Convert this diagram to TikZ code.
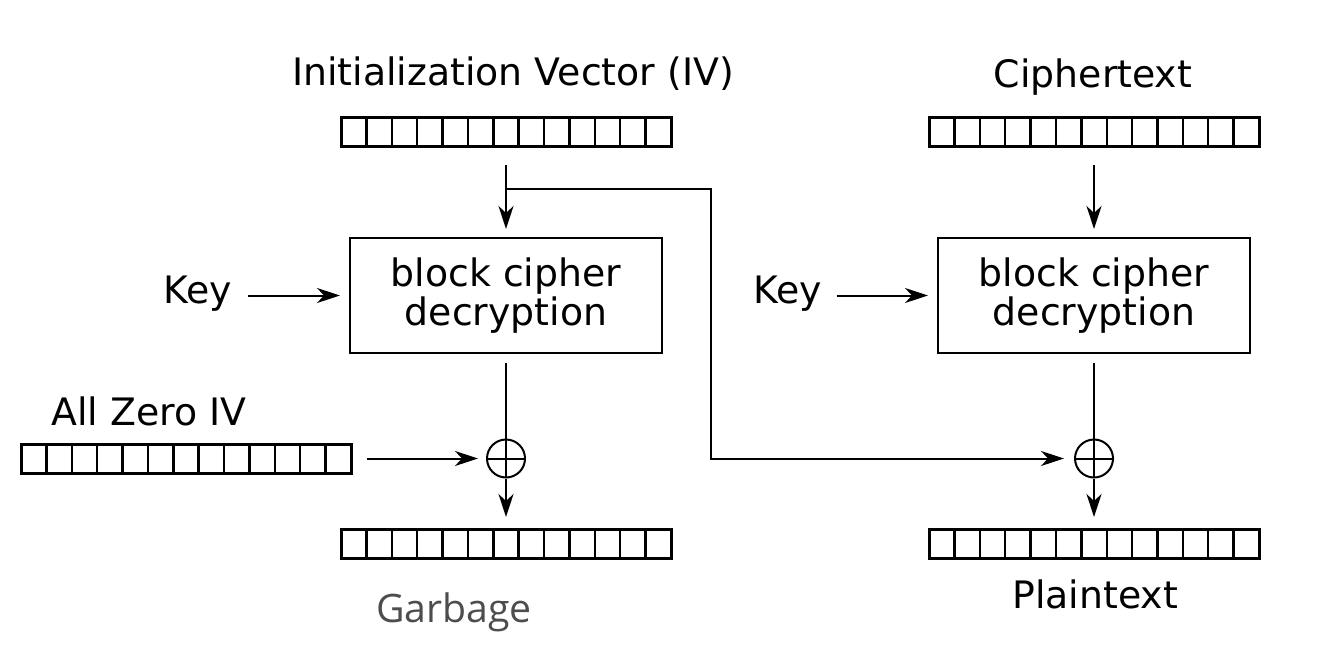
\documentclass[tikz,border=0pt]{standalone}
\usepackage{fontspec}
\setmainfont{DejaVu Sans}
\newfontfamily\garbfont{Open Sans}
\usetikzlibrary{arrows.meta,calc,positioning}
\definecolor{garbgray}{HTML}{4D4D4D}

\begin{document}
\begin{tikzpicture}[
        x=0.5pt, y=-0.5pt,
        font=\fontsize{18.9}{19.5}\selectfont,
        reg/.style={
          draw,
          line width=1.5pt,
          outer sep=0pt,
          inner sep=0pt,
          minimum width=165pt,
          minimum height=14.5pt
        },
        dec/.style={
          draw,
          line width=1pt,
          minimum width=156pt,
          minimum height=57.5pt,
          align=center
        },
        xor/.style={
          draw,
          circle,
          line width=1pt,
          inner sep=0pt,
          minimum size=19pt,
          path picture={\draw[line width=1pt]
            (path picture bounding box.north) -- (path picture bounding box.south)
            (path picture bounding box.west) -- (path picture bounding box.east);}
        },
        lbl/.style={inner sep=0pt, anchor=base},
        flow/.style={-{Stealth[length=11.5pt,width=7.5pt,inset=3.5pt]}, line width=1pt}]

        \useasboundingbox (0,0) rectangle (1325,668);

        % Helper macro: register of 13 cells.
        \def\reg#1#2{\node[reg] (#1) at (#2) {};
          \foreach \i in {1,...,12}
            \draw[line width=1.2pt] ([xshift=\i*12.692pt] #1.north west)
              -- ([xshift=\i*12.692pt] #1.south west)}

        % Draw the registers.
        \reg{iv}{506,132.5};
        \reg{ct}{1094,132.5};
        \reg{zero}{186,458.5};
        \reg{garb}{506,543.5};
        \reg{pt}{1094,543.5};

        % Cipher blocks and xors.
        \node[dec] (dec1) at (506,295.5) {block cipher\\decryption};
        \node[dec] (dec2) at (1094,295.5) {block cipher\\decryption};
        \node[xor] (x1) at (506,458.5) {};
        \node[xor] (x2) at (1094,458.5) {};

        % Add Labels.
        \node[lbl] (ivlbl) at (513,86) {Initialization Vector (IV)};
        \node[lbl] (ctlbl) at (1093,88) {Ciphertext};
        \node[lbl] (key1) at (198,303) {Key};
        \node[lbl] (key2) at (788,303) {Key};
        \node[lbl] (zerolbl) at (149,425) {All Zero IV};
        \node[lbl, text=garbgray, font=\garbfont\fontsize{19.6}{20}\selectfont]
          (garblbl) at (454,622) {Garbage};
        \node[lbl] (ptlbl) at (1095,608) {Plaintext};

        % Connectors.
        \draw[flow, shorten <=9pt, shorten >=4pt] (iv) -- (dec1);
        \draw[flow, shorten <=9pt, shorten >=4pt] (ct) -- (dec2);
        \draw[flow, shorten <=7.5pt, shorten >=4.5pt] (key1.east |- dec1) -- (dec1);
        \draw[flow, shorten <=7pt, shorten >=4.5pt] (key2.east |- dec2) -- (dec2);
        \draw[line width=1pt, shorten <=4.5pt] (dec1) -- (x1);
        \draw[line width=1pt, shorten <=4.5pt] (dec2) -- (x2);
        \draw[flow, shorten >=6pt] (x1) -- (garb);
        \draw[flow, shorten >=6pt] (x2) -- (pt);
        \draw[flow, shorten <=8pt, shorten >=4pt] (zero) -- (x1);

        % IV branch to the second xor.
        \coordinate (br) at ([yshift=-21pt] iv.south);
        \coordinate (turn) at (711,189);
        \draw[flow, shorten >=5pt] (br) -- (turn) -- (turn |- x2) -- (x2);
\end{tikzpicture}
\end{document}
